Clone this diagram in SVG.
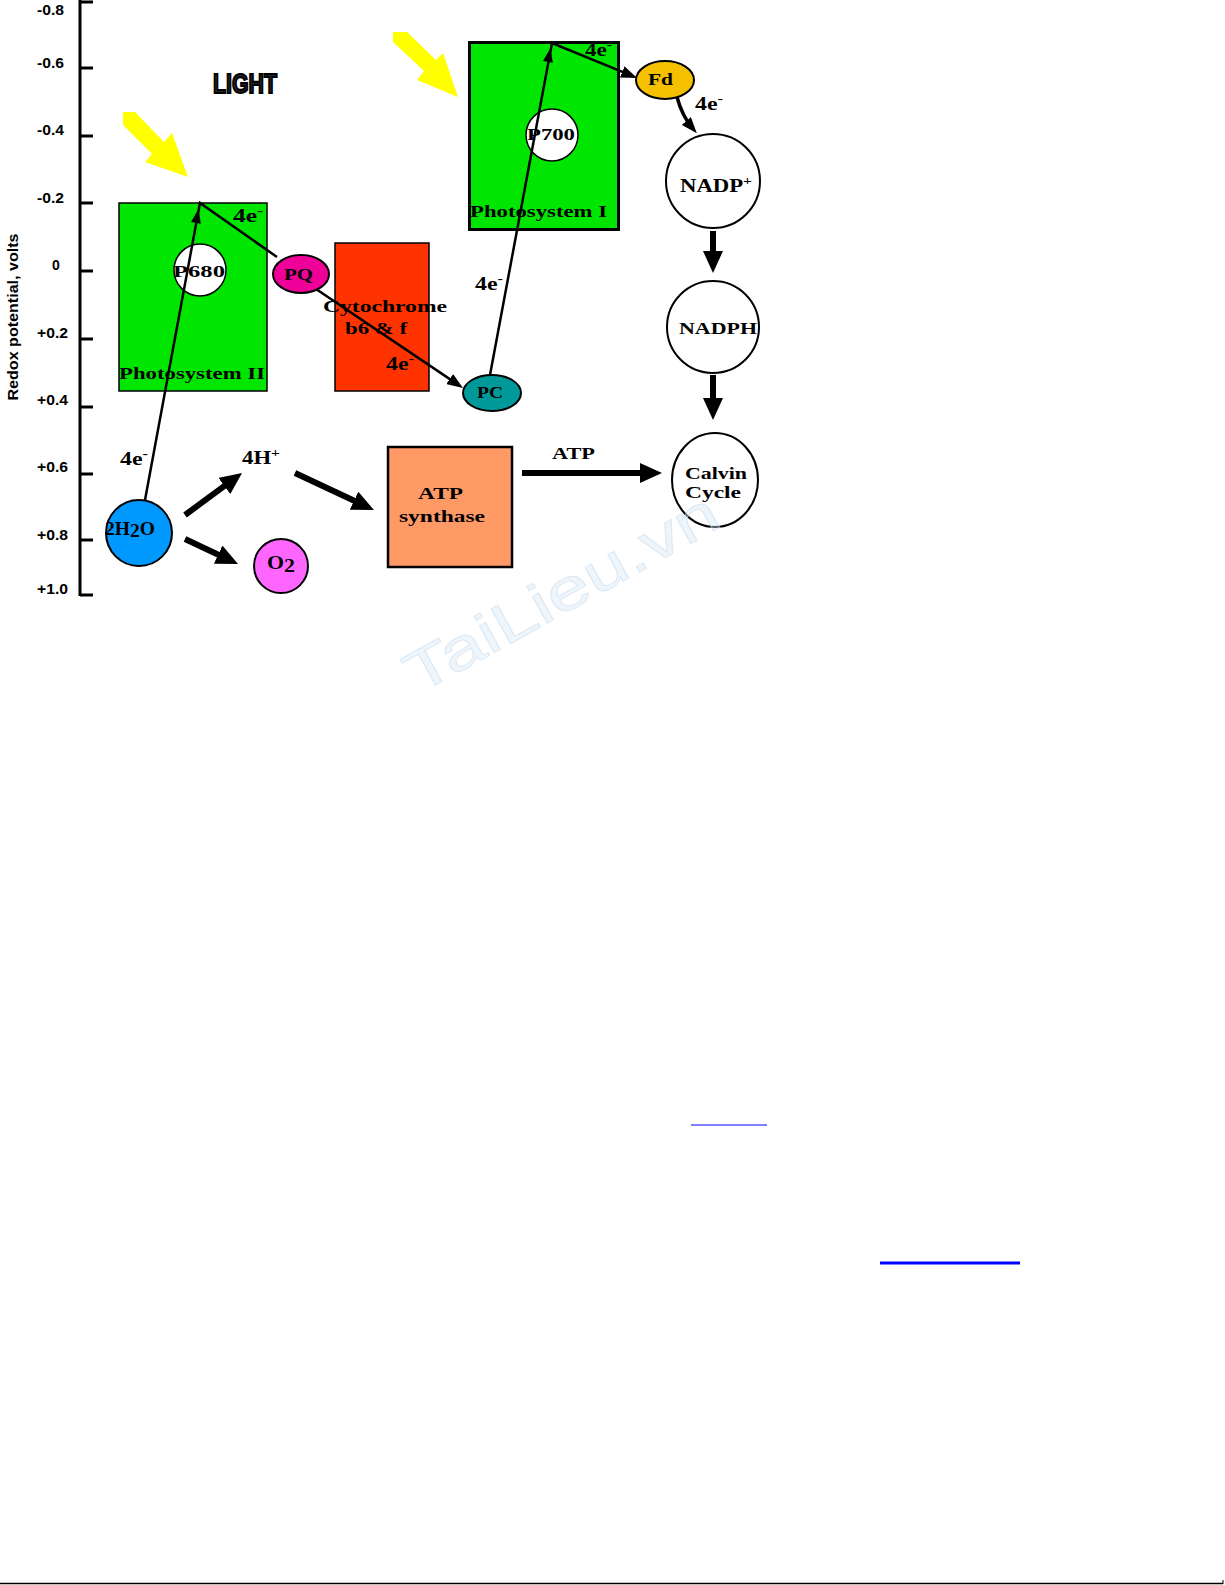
<svg xmlns="http://www.w3.org/2000/svg" width="1225" height="1585" viewBox="0 0 1225 1585">
<style>
.lbl{font-family:"Liberation Serif","Times New Roman",serif;font-weight:bold;font-size:17px;fill:#000}
.el{font-family:"Liberation Serif","Times New Roman",serif;font-weight:bold;font-size:19px;fill:#000}
.ax{font-family:"Liberation Sans",Arial,sans-serif;font-weight:bold;font-size:14px;fill:#000}
.thin{stroke:#000;stroke-width:2.5;fill:none}
.thick{stroke:#000;stroke-width:6;fill:none}
.tick{stroke:#000;stroke-width:3}
.sup{font-size:13px}
.light{fill:#ffff00}
</style>
<defs>
<marker id="ah" markerUnits="userSpaceOnUse" markerWidth="16" markerHeight="12" refX="10" refY="6" orient="auto"><path d="M0,0 L16,6 L0,12 z" fill="#000"/></marker>
<marker id="ahb" markerUnits="userSpaceOnUse" markerWidth="22" markerHeight="20" refX="12" refY="10" orient="auto"><path d="M0,0 L22,10 L0,20 z" fill="#000"/></marker>
</defs>
<rect width="1225" height="1585" fill="#fff"/>
<g id="axis">
<line x1="80" y1="0" x2="80" y2="596" class="tick"/>
<line x1="80" y1="2" x2="93" y2="2" class="tick"/>
<line x1="80" y1="68" x2="93" y2="68" class="tick"/>
<line x1="80" y1="136" x2="93" y2="136" class="tick"/>
<line x1="80" y1="203" x2="93" y2="203" class="tick"/>
<line x1="80" y1="271" x2="93" y2="271" class="tick"/>
<line x1="80" y1="339" x2="93" y2="339" class="tick"/>
<line x1="80" y1="407" x2="93" y2="407" class="tick"/>
<line x1="80" y1="474" x2="93" y2="474" class="tick"/>
<line x1="80" y1="540" x2="93" y2="540" class="tick"/>
<line x1="80" y1="595" x2="93" y2="595" class="tick"/>
<text class="ax" x="37" y="15" textLength="27" lengthAdjust="spacingAndGlyphs">-0.8</text>
<text class="ax" x="37" y="68" textLength="27" lengthAdjust="spacingAndGlyphs">-0.6</text>
<text class="ax" x="37" y="135" textLength="27" lengthAdjust="spacingAndGlyphs">-0.4</text>
<text class="ax" x="37" y="203" textLength="27" lengthAdjust="spacingAndGlyphs">-0.2</text>
<text class="ax" x="52" y="270">0</text>
<text class="ax" x="37" y="338" textLength="31" lengthAdjust="spacingAndGlyphs">+0.2</text>
<text class="ax" x="37" y="405" textLength="31" lengthAdjust="spacingAndGlyphs">+0.4</text>
<text class="ax" x="37" y="472" textLength="31" lengthAdjust="spacingAndGlyphs">+0.6</text>
<text class="ax" x="37" y="540" textLength="31" lengthAdjust="spacingAndGlyphs">+0.8</text>
<text class="ax" x="37" y="594" textLength="31" lengthAdjust="spacingAndGlyphs">+1.0</text>
<text class="ax" font-size="15" transform="translate(18,317) rotate(-90)" text-anchor="middle" textLength="167" lengthAdjust="spacingAndGlyphs">Redox potential, volts</text>
</g>
<g id="light-label">
<text x="213" y="93" font-family="Liberation Sans, Arial, sans-serif" font-weight="bold" font-size="28" fill="#222" stroke="#000" stroke-width="2" textLength="64" lengthAdjust="spacingAndGlyphs">LIGHT</text>
</g>
<g id="light-arrows">
<polygon class="light" points="123,112 135,112 164,142 172,133 188,177 145,162 152,154 123,125"/>
<polygon class="light" points="393,32 407,32 436,60 443,53 458,97 417,80 424,71 393,42"/>
</g>
<g id="photosystem-ii">
<rect x="119" y="203" width="148" height="188" fill="#00e600" stroke="#000" stroke-width="1.5"/>
<text class="lbl" x="119" y="379" textLength="146" lengthAdjust="spacingAndGlyphs">Photosystem II</text>
</g>
<g id="p680">
<circle cx="200" cy="270" r="26" fill="#fff" stroke="#000" stroke-width="1.5"/>
<text class="lbl" x="173" y="277" font-size="18" textLength="52" lengthAdjust="spacingAndGlyphs">P680</text>
</g>
<g id="photosystem-i">
<rect x="469.5" y="42.5" width="149" height="187" fill="#00e600" stroke="#000" stroke-width="3"/>
<text class="lbl" x="470" y="217" textLength="137" lengthAdjust="spacingAndGlyphs">Photosystem I</text>
</g>
<g id="p700">
<circle cx="552" cy="135" r="26" fill="#fff" stroke="#000" stroke-width="1.5"/>
<text class="lbl" x="527" y="140" font-size="18" textLength="48" lengthAdjust="spacingAndGlyphs">P700</text>
</g>
<g id="cytochrome">
<rect x="335" y="243" width="94" height="148" fill="#ff3300" stroke="#000" stroke-width="1.5"/>
<text class="lbl" x="323" y="312" textLength="124" lengthAdjust="spacingAndGlyphs">Cytochrome</text>
<text class="lbl" x="345" y="334" textLength="62" lengthAdjust="spacingAndGlyphs">b6 &amp; f</text>
</g>
<g id="pq">
<ellipse cx="301" cy="274" rx="28" ry="19" fill="#ee0099" stroke="#000" stroke-width="2"/>
<text class="lbl" x="284" y="280" textLength="29" lengthAdjust="spacingAndGlyphs">PQ</text>
</g>
<g id="pc">
<ellipse cx="492" cy="393" rx="29" ry="18" fill="#009999" stroke="#000" stroke-width="2"/>
<text class="lbl" x="477" y="398" textLength="26" lengthAdjust="spacingAndGlyphs">PC</text>
</g>
<g id="fd">
<ellipse cx="665" cy="80" rx="29" ry="19" fill="#f5c000" stroke="#000" stroke-width="2"/>
<text class="lbl" x="648" y="85" textLength="25" lengthAdjust="spacingAndGlyphs">Fd</text>
</g>
<g id="nadp">
<circle cx="713" cy="181" r="47" fill="#fff" stroke="#000" stroke-width="2"/>
<text class="el" x="680" y="192" textLength="72" lengthAdjust="spacingAndGlyphs">NADP<tspan class="sup" dy="-7">+</tspan></text>
</g>
<g id="nadph">
<circle cx="713" cy="327" r="46" fill="#fff" stroke="#000" stroke-width="2"/>
<text class="lbl" x="679" y="334" font-size="18" textLength="78" lengthAdjust="spacingAndGlyphs">NADPH</text>
</g>
<g id="calvin">
<ellipse cx="715" cy="480" rx="43" ry="47" fill="#fff" stroke="#000" stroke-width="2"/>
<text class="lbl" x="685" y="479" textLength="62" lengthAdjust="spacingAndGlyphs">Calvin</text>
<text class="lbl" x="685" y="498" textLength="56" lengthAdjust="spacingAndGlyphs">Cycle</text>
</g>
<g id="atp-synthase">
<rect x="388" y="447" width="124" height="120" fill="#ff9966" stroke="#000" stroke-width="2.5"/>
<text class="lbl" x="418" y="499" textLength="45" lengthAdjust="spacingAndGlyphs">ATP</text>
<text class="lbl" x="399" y="522" textLength="86" lengthAdjust="spacingAndGlyphs">synthase</text>
</g>
<g id="h2o">
<circle cx="139" cy="533" r="33" fill="#0099ff" stroke="#000" stroke-width="2"/>
<text class="el" x="105" y="535" textLength="50" lengthAdjust="spacingAndGlyphs">2H<tspan dy="2">2</tspan><tspan dy="-2">O</tspan></text>
</g>
<g id="o2">
<circle cx="281" cy="566" r="27" fill="#ff66ff" stroke="#000" stroke-width="2"/>
<text class="el" x="267" y="569" textLength="28" lengthAdjust="spacingAndGlyphs">O<tspan dy="3">2</tspan></text>
</g>
<g id="connectors">
<path class="thin" d="M145,500 L200,203 L277,257"/>
<polygon points="198.5,209 200.8,223.7 191,221.9" fill="#000"/>
<line class="thin" x1="316" y1="289" x2="458" y2="384.6" marker-end="url(#ah)"/>
<path class="thin" d="M490,375 L552,43 L631.5,75.7" marker-end="url(#ah)"/>
<polygon points="550.5,48 552.8,62.7 543,60.9" fill="#000"/>
<path d="M677,97 Q682,116 692.9,128.6" stroke="#000" stroke-width="3.5" fill="none" marker-end="url(#ah)"/>
<line class="thick" x1="713" y1="231" x2="713" y2="263" marker-end="url(#ahb)"/>
<line class="thick" x1="713" y1="375" x2="713" y2="410" marker-end="url(#ahb)"/>
<line class="thick" x1="522" y1="473" x2="652" y2="473" marker-end="url(#ahb)"/>
<line class="thick" x1="185" y1="515" x2="234" y2="478.9" stroke-width="5" marker-end="url(#ahb)"/>
<line class="thick" x1="185" y1="539" x2="229" y2="559.7" marker-end="url(#ahb)"/>
<line class="thick" x1="295" y1="473" x2="364.9" y2="505.8" stroke-width="5" marker-end="url(#ahb)"/>
</g>
<g id="edge-labels">
<text class="el" x="233" y="222" textLength="30" lengthAdjust="spacingAndGlyphs">4e<tspan class="sup" dy="-7">-</tspan></text>
<text class="el" x="120" y="465" textLength="28" lengthAdjust="spacingAndGlyphs">4e<tspan class="sup" dy="-7">-</tspan></text>
<text class="el" x="386" y="370" textLength="28" lengthAdjust="spacingAndGlyphs">4e<tspan class="sup" dy="-7">-</tspan></text>
<text class="el" x="475" y="290" textLength="28" lengthAdjust="spacingAndGlyphs">4e<tspan class="sup" dy="-7">-</tspan></text>
<text class="el" x="585" y="56" textLength="27" lengthAdjust="spacingAndGlyphs">4e<tspan class="sup" dy="-7">-</tspan></text>
<text class="el" x="695" y="110" textLength="28" lengthAdjust="spacingAndGlyphs">4e<tspan class="sup" dy="-7">-</tspan></text>
<text class="el" x="242" y="464" textLength="38" lengthAdjust="spacingAndGlyphs">4H<tspan class="sup" dy="-7">+</tspan></text>
<text class="lbl" x="552" y="459" textLength="43" lengthAdjust="spacingAndGlyphs">ATP</text>
</g>
<g id="page-marks">
<line x1="691" y1="1125" x2="767" y2="1125" stroke="#0000ff" stroke-width="1"/>
<line x1="880" y1="1263" x2="1020" y2="1263" stroke="#0000ff" stroke-width="3"/>
<line x1="0" y1="1583.5" x2="1223" y2="1583.5" stroke="#000" stroke-width="1.5"/>
<line x1="1223" y1="1580" x2="1223" y2="1584" stroke="#000" stroke-width="1"/>
</g>
<text x="418" y="695" transform="rotate(-29 418 695)" font-family="Liberation Sans, Arial, sans-serif" font-size="58" fill="#d8e8f5" fill-opacity="0.4" stroke="#c8dcee" stroke-opacity="0.55" stroke-width="1" textLength="350" lengthAdjust="spacingAndGlyphs">TaiLieu.vn</text>
</svg>
